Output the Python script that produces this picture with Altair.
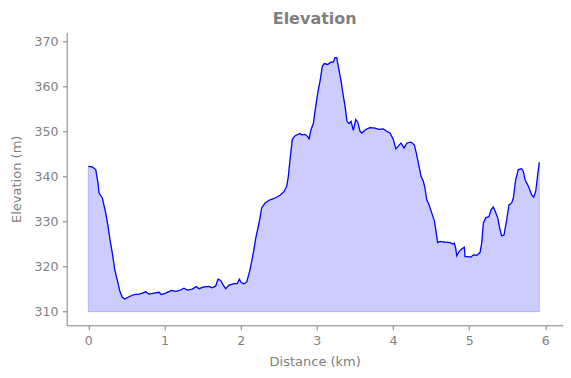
import altair as alt
import pandas as pd

# Distance along the route (km) and elevation (m)
distance_km = [
    0.0, 0.05, 0.097, 0.127, 0.14, 0.184, 0.228, 0.259, 0.285, 0.315,
    0.347, 0.38, 0.416, 0.447, 0.478, 0.534, 0.6, 0.666, 0.709, 0.753,
    0.797, 0.863, 0.928, 0.958, 1.016, 1.09, 1.147, 1.213, 1.256, 1.3,
    1.365, 1.418, 1.453, 1.519, 1.585, 1.628, 1.672, 1.703, 1.738, 1.772,
    1.804, 1.847, 1.913, 1.956, 1.983, 2.009, 2.044, 2.08, 2.123, 2.166,
    2.198, 2.241, 2.276, 2.32, 2.385, 2.451, 2.517, 2.573, 2.604, 2.626,
    2.648, 2.678, 2.714, 2.779, 2.8, 2.845, 2.88, 2.898, 2.924, 2.954,
    2.976, 3.012, 3.042, 3.072, 3.098, 3.143, 3.182, 3.217, 3.239, 3.261,
    3.282, 3.318, 3.348, 3.37, 3.396, 3.423, 3.449, 3.479, 3.511, 3.537,
    3.567, 3.589, 3.642, 3.698, 3.764, 3.816, 3.873, 3.917, 3.961, 4.004,
    4.036, 4.07, 4.105, 4.145, 4.184, 4.237, 4.28, 4.311, 4.342, 4.368,
    4.398, 4.42, 4.443, 4.473, 4.508, 4.543, 4.561, 4.587, 4.617, 4.683,
    4.749, 4.784, 4.805, 4.823, 4.837, 4.867, 4.902, 4.937, 4.946, 4.989,
    5.024, 5.055, 5.099, 5.142, 5.165, 5.186, 5.217, 5.261, 5.287, 5.317,
    5.348, 5.375, 5.405, 5.427, 5.457, 5.493, 5.523, 5.558, 5.58, 5.611,
    5.645, 5.69, 5.711, 5.733, 5.777, 5.821, 5.847, 5.874, 5.9, 5.921,
]
elevation_m = [
    342.2, 342.1, 341.5, 338.5, 336.3, 335.2, 331.9, 328.9, 325.9, 323.0,
    319.3, 317.0, 314.4, 313.2, 312.8, 313.3, 313.8, 313.9, 314.1, 314.4,
    313.9, 314.1, 314.3, 313.8, 314.1, 314.7, 314.5, 314.8, 315.2, 314.8,
    315.0, 315.6, 315.1, 315.5, 315.6, 315.3, 315.7, 317.2, 316.9, 315.9,
    315.1, 315.9, 316.2, 316.2, 317.2, 316.4, 316.2, 316.6, 319.3, 323.0,
    326.3, 329.6, 333.0, 334.1, 334.8, 335.2, 335.8, 336.7, 337.8, 340.0,
    343.7, 348.2, 349.0, 349.5, 349.2, 349.3, 348.8, 348.3, 350.4, 351.7,
    354.4, 358.5, 361.1, 364.4, 365.0, 364.8, 365.3, 365.3, 366.3, 366.3,
    364.4, 361.1, 357.8, 355.6, 352.2, 351.7, 352.2, 350.2, 352.6, 352.0,
    350.0, 349.6, 350.4, 350.8, 350.7, 350.4, 350.5, 350.0, 349.6, 348.2,
    346.1, 346.7, 347.4, 346.3, 347.4, 347.6, 347.0, 344.8, 342.2, 340.0,
    338.9, 337.4, 334.8, 333.7, 331.9, 330.2, 328.2, 325.3, 325.6, 325.4,
    325.3, 325.0, 325.2, 324.1, 322.4, 323.3, 323.9, 324.3, 322.2, 322.2,
    322.1, 322.6, 322.5, 323.1, 325.2, 329.6, 330.8, 331.1, 332.6, 333.2,
    332.0, 330.8, 328.2, 326.8, 327.0, 330.4, 333.7, 334.1, 335.2, 339.3,
    341.5, 341.7, 341.1, 339.3, 337.8, 335.9, 335.4, 336.7, 340.4, 343.1,
]
base_elevation = 310
x_ticks = [0, 1, 2, 3, 4, 5, 6]
y_ticks = [310, 320, 330, 340, 350, 360, 370]

df = pd.DataFrame({"distance": distance_km, "elevation": elevation_m})
df["base"] = base_elevation

FONT = "DejaVu Sans"
GRAY = "#808080"

x_enc = alt.X(
    "distance:Q",
    scale=alt.Scale(domain=[-0.284, 6.228], nice=False, zero=False),
    axis=alt.Axis(values=x_ticks, title="Distance (km)", format="d",
                  titlePadding=9),
)
y_enc = alt.Y(
    "elevation:Q",
    scale=alt.Scale(domain=[306.98, 371.93], nice=False, zero=False),
    axis=alt.Axis(values=y_ticks, title="Elevation (m)", format="d",
                  titlePadding=11),
)

area = alt.Chart(df).mark_area(
    fill="#0000ff", fillOpacity=0.2,
    stroke="#0000ff", strokeOpacity=0.2, strokeWidth=1,
).encode(x=x_enc, y=y_enc, y2="base:Q")

line = alt.Chart(df).mark_line(color="#0000ff", strokeWidth=1.25).encode(
    x=x_enc, y=y_enc
)

chart = (
    alt.layer(area, line)
    .properties(
        width=496,
        height=293,
        title=alt.TitleParams(
            "Elevation", fontSize=16, fontWeight="bold", color=GRAY,
            font=FONT, anchor="middle", baseline="alphabetic", offset=-7.5,
        ),
        autosize=alt.AutoSizeParams(type="none"),
        padding={"left": 66.7, "top": 32.3, "right": 8.3, "bottom": 52.7},
    )
    .configure_view(stroke=None)
    .configure_axis(
        grid=False,
        domainColor=GRAY, domainWidth=1,
        tickColor=GRAY, tickWidth=1, tickSize=4.4,
        labelColor=GRAY, labelFont=FONT, labelFontSize=12.5,
        labelPadding=4.4, labelFlush=False, labelOverlap=False,
        titleColor=GRAY, titleFont=FONT, titleFontSize=13,
        titleFontWeight="normal",
    )
)

chart.save("out.html", embed_options={"renderer": "svg", "actions": False})
